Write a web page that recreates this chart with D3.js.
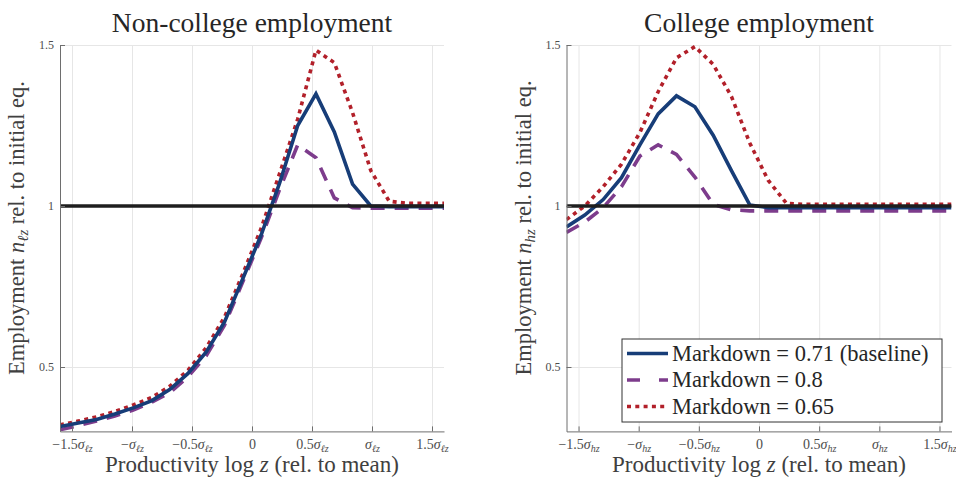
<!DOCTYPE html>
<html>
<head>
<meta charset="utf-8">
<script src="https://cdn.jsdelivr.net/npm/d3@7"></script>
<style>
  body { margin: 0; background: #fff; }
  svg text { font-family: "Liberation Serif", "DejaVu Serif", serif; fill: #262626; }
</style>
</head>
<body>
<svg id="chart" width="956" height="477"></svg>
<script>
// productivity grid, in units of sigma (22 points)
const xGrid = [-1.6, -1.448, -1.295, -1.143, -0.990, -0.838, -0.686, -0.533, -0.381, -0.229, -0.076,
               0.076, 0.229, 0.381, 0.533, 0.686, 0.838, 0.990, 1.143, 1.295, 1.448, 1.6];

const xTickValues = [-1.5, -1, -0.5, 0, 0.5, 1, 1.5];
const xTickCoef = ["−1.5", "−", "−0.5", "0", "0.5", "", "1.5"];
const yTickValues = [0.5, 1, 1.5];
const yTickLabels = ["0.5", "1", "1.5"];

const seriesNames = ["Markdown = 0.71 (baseline)", "Markdown = 0.8", "Markdown = 0.65"];

// non-college employment relative to initial eq.
const nonCollegeBase = [0.315, 0.326, 0.337, 0.354, 0.373, 0.395, 0.43, 0.48, 0.547, 0.64, 0.775,
                        0.91, 1.07, 1.25, 1.348, 1.23, 1.068, 1.0, 0.998, 0.998, 0.998, 0.998];
const nonCollegeMd08 = [0.305, 0.318, 0.332, 0.348, 0.366, 0.39, 0.42, 0.47, 0.535, 0.63, 0.765,
                        0.9, 1.05, 1.19, 1.15, 1.025, 0.995, 0.993, 0.993, 0.993, 0.993, 0.993];
const nonCollegeMd065 = [0.32, 0.332, 0.345, 0.362, 0.382, 0.405, 0.44, 0.49, 0.56, 0.655, 0.79,
                         0.93, 1.10, 1.27, 1.484, 1.445, 1.29, 1.11, 1.015, 1.008, 1.008, 1.008];

// college employment relative to initial eq.
const collegeBase = [0.935, 0.972, 1.02, 1.088, 1.19, 1.286, 1.342, 1.308, 1.22, 1.11, 1.003,
                     0.995, 0.995, 0.995, 0.995, 0.995, 0.995, 0.995, 0.995, 0.995, 0.995, 0.995];
const collegeMd08 = [0.918, 0.95, 0.995, 1.06, 1.155, 1.19, 1.16, 1.09, 1.005, 0.988, 0.985,
                     0.985, 0.985, 0.985, 0.985, 0.985, 0.985, 0.985, 0.985, 0.985, 0.985, 0.985];
const collegeMd065 = [0.958, 1.0, 1.06, 1.13, 1.228, 1.355, 1.46, 1.495, 1.44, 1.34, 1.195,
                      1.08, 1.008, 1.005, 1.005, 1.005, 1.005, 1.005, 1.005, 1.005, 1.005, 1.005];

// line styles for the three markdown cases
const styles = [
  { color: "#173d78", dash: null, legendDash: null },
  { color: "#7d3c8c", dash: "14,10", legendDash: "13,19" },
  { color: "#b2202a", dash: "4,4.3", legendDash: "4,4.3" }
];

const svg = d3.select("#chart");
const plotTop = 45, plotBottom = 431.4;

function drawPanel(opt) {
  const x = d3.scaleLinear().domain([-1.6, 1.6]).range([opt.left, opt.right]);
  const y = d3.scaleLinear().domain([0.3, 1.5]).range([plotBottom, plotTop]);
  const g = svg.append("g");

  // grid lines
  g.append("g")
    .attr("transform", "translate(0," + plotBottom + ")")
    .call(d3.axisBottom(x).tickValues(xTickValues).tickSize(-(plotBottom - plotTop)).tickFormat(""))
    .call(s => s.select(".domain").remove())
    .selectAll("line").attr("stroke", "#e6e6e6");
  g.append("g")
    .attr("transform", "translate(" + opt.left + ",0)")
    .call(d3.axisLeft(y).tickValues(yTickValues).tickSize(-(opt.right - opt.left)).tickFormat(""))
    .call(s => s.select(".domain").remove())
    .selectAll("line").attr("stroke", "#e6e6e6");

  // clip for curves
  const clipId = "clip-" + opt.id;
  svg.append("clipPath").attr("id", clipId)
    .append("rect")
    .attr("x", opt.left).attr("y", plotTop - 3)
    .attr("width", opt.right - opt.left).attr("height", plotBottom - plotTop + 3);

  const line = d3.line().x((d, i) => x(xGrid[i])).y(d => y(d));
  const curves = g.append("g").attr("clip-path", "url(#" + clipId + ")");

  // draw the 0.8 and 0.65 cases first, baseline on top
  [2, 1, 0].forEach(function (k) {
    curves.append("path")
      .datum(opt.series[k])
      .attr("d", line)
      .attr("fill", "none")
      .attr("stroke", styles[k].color)
      .attr("stroke-width", 3.6)
      .attr("stroke-dasharray", styles[k].dash);
  });

  // reference line at 1
  curves.append("line")
    .attr("x1", x(-1.6)).attr("x2", x(1.6))
    .attr("y1", y(1)).attr("y2", y(1))
    .attr("stroke", "#1e1e1e")
    .attr("stroke-width", 3.6);

  // x axis
  const xAxis = g.append("g")
    .attr("transform", "translate(0," + plotBottom + ")")
    .call(d3.axisBottom(x).tickValues(xTickValues).tickSize(-5).tickSizeOuter(0).tickFormat(""));
  xAxis.select(".domain").attr("stroke", "#6e6e6e");
  xAxis.selectAll(".tick line").attr("stroke", "#6e6e6e");
  xAxis.selectAll(".tick text")
    .attr("y", 17.5).attr("dy", null)
    .attr("font-size", 14).style("fill", "#4d4d4d")
    .each(function (d, i) {
      const t = d3.select(this);
      t.append("tspan").text(xTickCoef[i]);
      if (d !== 0) {
        t.append("tspan").attr("font-style", "italic").text("σ");
        t.append("tspan").attr("font-style", "italic").attr("font-size", 10).attr("dy", 3).text(opt.sub);
      }
    });

  // y axis
  const yAxis = g.append("g")
    .attr("transform", "translate(" + opt.left + ",0)")
    .call(d3.axisLeft(y).tickValues(yTickValues).tickSize(-5).tickSizeOuter(0).tickPadding(6)
      .tickFormat((d, i) => yTickLabels[i]));
  yAxis.select(".domain").attr("stroke", "#6e6e6e");
  yAxis.selectAll(".tick line").attr("stroke", "#6e6e6e");
  yAxis.selectAll(".tick text").attr("font-size", 12).style("fill", "#4d4d4d");

  const cx = (opt.left + opt.right) / 2;

  // title
  g.append("text")
    .attr("x", cx).attr("y", 32)
    .attr("text-anchor", "middle")
    .attr("font-size", 27.5)
    .text(opt.title);

  // x label
  const xl = g.append("text")
    .attr("x", cx).attr("y", 472)
    .attr("text-anchor", "middle")
    .attr("font-size", 23)
    .style("fill", "#404040");
  xl.append("tspan").text("Productivity log ");
  xl.append("tspan").attr("font-style", "italic").text("z");
  xl.append("tspan").text(" (rel. to mean)");

  // y label
  const yl = g.append("text")
    .attr("transform", "translate(" + (opt.left - 36) + ",228) rotate(-90)")
    .attr("text-anchor", "middle")
    .attr("font-size", 22.5)
    .style("fill", "#404040");
  yl.append("tspan").text("Employment ");
  yl.append("tspan").attr("font-style", "italic").text("n");
  yl.append("tspan").attr("font-style", "italic").attr("font-size", 15).attr("dy", 4).text(opt.sub);
  yl.append("tspan").attr("dy", -4).text(" rel. to initial eq.");

  return { x: x, y: y, g: g };
}

drawPanel({
  id: "left", left: 60, right: 444, title: "Non-college employment", sub: "ℓz",
  series: [nonCollegeBase, nonCollegeMd08, nonCollegeMd065]
});

const rightPanel = drawPanel({
  id: "right", left: 566.5, right: 951.5, title: "College employment", sub: "hz",
  series: [collegeBase, collegeMd08, collegeMd065]
});

// legend
const legend = rightPanel.g.append("g").attr("transform", "translate(622,339)");
legend.append("rect")
  .attr("width", 320).attr("height", 83)
  .attr("fill", "#fff").attr("stroke", "#333").attr("stroke-width", 1);
seriesNames.forEach(function (name, i) {
  const row = legend.append("g").attr("transform", "translate(0," + (14.5 + i * 26.5) + ")");
  row.append("line")
    .attr("x1", 5).attr("x2", 46)
    .attr("stroke", styles[i].color)
    .attr("stroke-width", 3.6)
    .attr("stroke-dasharray", styles[i].legendDash);
  row.append("text")
    .attr("x", 50).attr("y", 7)
    .attr("font-size", 22.5)
    .text(name);
});
</script>
</body>
</html>
